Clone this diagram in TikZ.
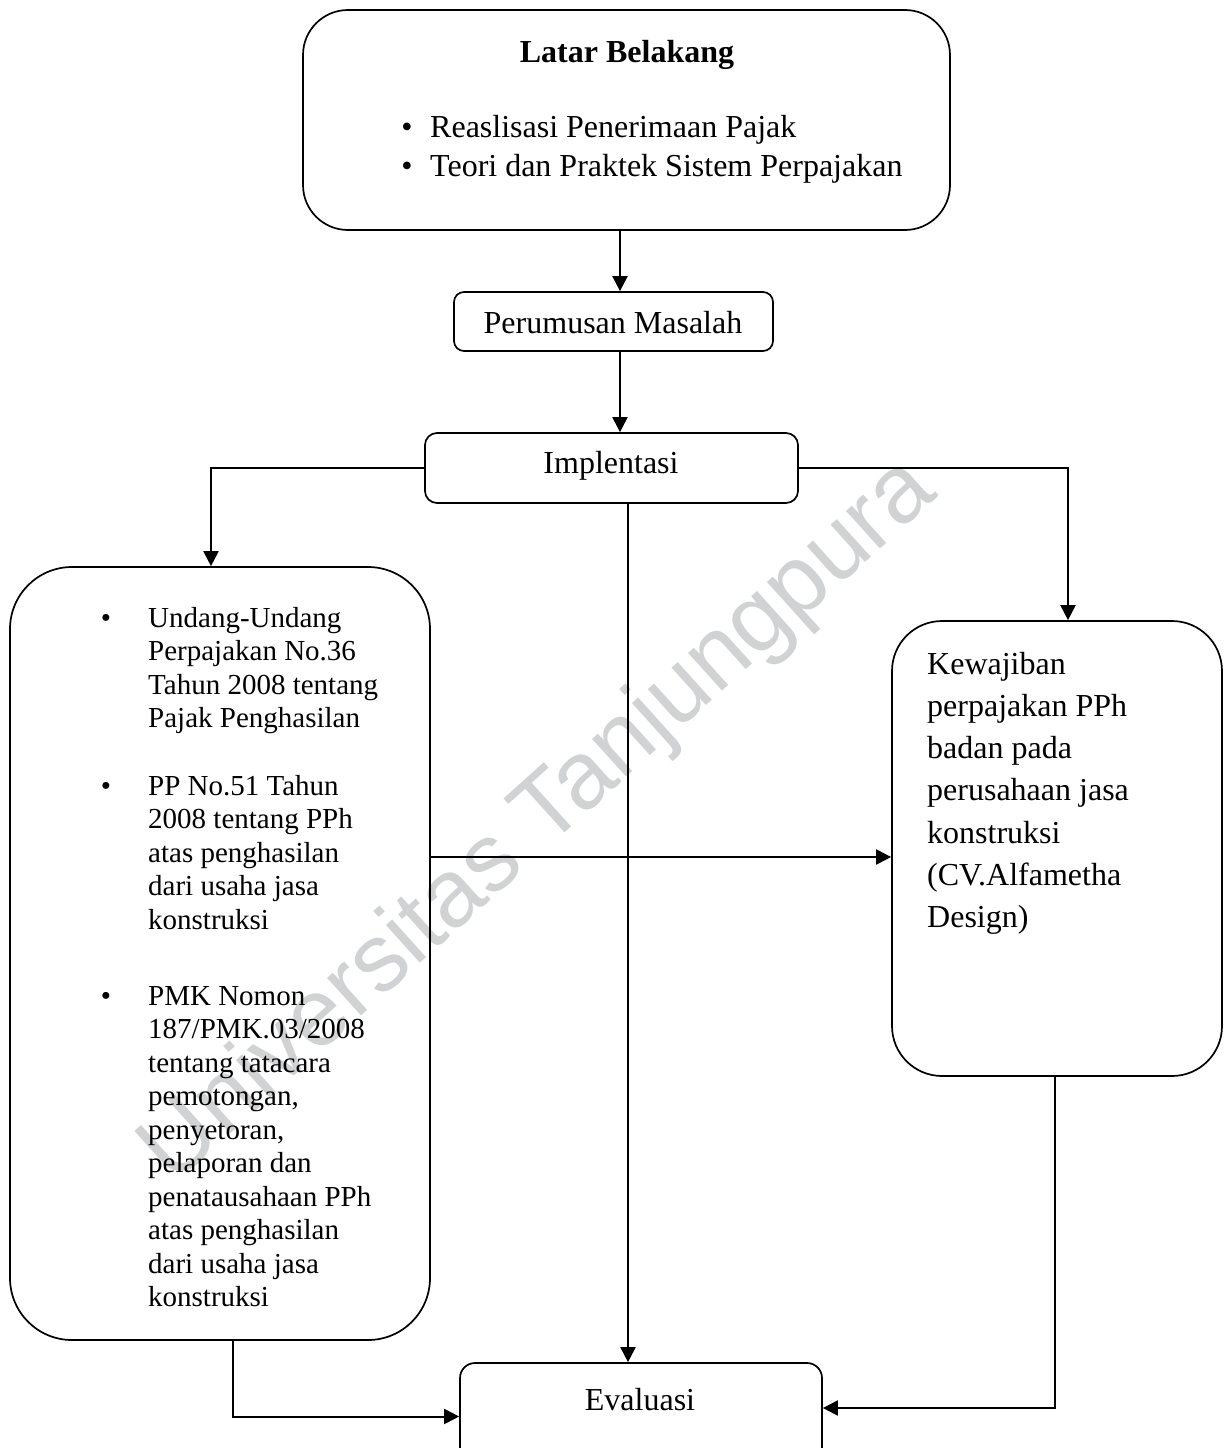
\documentclass[tikz,border=0pt]{standalone}
\usepackage{fontspec}
\setmainfont{Liberation Serif}
\newfontfamily\wmfont{Liberation Sans}
\usetikzlibrary{arrows.meta}
\definecolor{wmgray}{RGB}{208,210,212}
\begin{document}
\begin{tikzpicture}[x=1pt,y=-1pt,
  box/.style={draw, line width=1.7pt, inner sep=0pt},
  conn/.style={line width=2pt, -{Triangle[length=15pt,width=15pt]}},
  txt/.style={inner sep=0pt, anchor=base west, font=\fontsize{32}{38}\selectfont},
  ctxt/.style={inner sep=0pt, anchor=base, font=\fontsize{32}{38}\selectfont},
  ltxt/.style={inner sep=0pt, anchor=base west, font=\fontsize{29}{33}\selectfont},
  bul/.style={inner sep=0pt, anchor=base, font=\fontsize{29}{33}\selectfont},
  tbul/.style={inner sep=0pt, anchor=base, font=\fontsize{32}{38}\selectfont},
]
\useasboundingbox (0,0) rectangle (1225,1448);
\clip (0,0) rectangle (1225,1448);

% watermark
\node (wm) [rotate=42, text=wmgray, inner sep=0pt, font=\wmfont\fontsize{96}{96}\selectfont] at (540,822) {Universitas Tanjungpura};

% boxes
\node (lb)  [box, rounded corners=45pt, minimum width=647pt, minimum height=220pt] at (626.5,120) {};
\node (pm)  [box, rounded corners=10pt, minimum width=319pt, minimum height=59pt] at (613.5,321.5) {};
\node (im)  [box, rounded corners=12pt, minimum width=373pt, minimum height=70pt] at (611.5,468) {};
\node (lft) [box, rounded corners=62pt, minimum width=420pt, minimum height=773pt] at (220,953.5) {};
\node (rgt) [box, rounded corners=50pt, minimum width=330pt, minimum height=455pt] at (1057,848.5) {};
\node (ev)  [box, rounded corners=15pt, minimum width=362pt, minimum height=107pt] at (641,1416.5) {};

% texts
\node (t0) [inner sep=0pt, anchor=base, font=\bfseries\fontsize{32}{38}\selectfont] at (627,62) {Latar Belakang};
\node (tb1) [tbul] at (407,137) {\textbullet};
\node (tt1) [txt] at (430,137) {Reaslisasi Penerimaan Pajak};
\node (tb2) [tbul] at (407,176) {\textbullet};
\node (tt2) [txt] at (430,176) {Teori dan Praktek Sistem Perpajakan};

\node (pmt) [ctxt] at (613,333) {Perumusan Masalah};
\node (imt) [ctxt] at (611,473) {Implentasi};
\node (evt) [ctxt] at (640,1410) {Evaluasi};

% left box
\node (lb1) [bul] at (106,627) {\textbullet};
\foreach [count=\i] \t in {Undang-Undang, Perpajakan No.36, Tahun 2008 tentang, Pajak Penghasilan}
  \node (la\i) [ltxt] at (148,{627+33.5*(\i-1)}) {\t};
\node (lb2) [bul] at (106,795) {\textbullet};
\foreach [count=\i] \t in {PP No.51 Tahun, 2008 tentang PPh, atas penghasilan, dari usaha jasa, konstruksi}
  \node (lc\i) [ltxt] at (148,{795+33.5*(\i-1)}) {\t};
\node (lb3) [bul] at (106,1005) {\textbullet};
\foreach [count=\i] \t in {PMK Nomon, 187/PMK.03/2008, tentang tatacara, {pemotongan,}, {penyetoran,}, pelaporan dan, penatausahaan PPh, atas penghasilan, dari usaha jasa, konstruksi}
  \node (ld\i) [ltxt] at (148,{1005+33.5*(\i-1)}) {\t};

% right box
\foreach [count=\i] \t in {Kewajiban, perpajakan PPh, badan pada, perusahaan jasa, konstruksi, {(CV.Alfametha}, {Design)}}
  \node (r\i) [txt] at (927,{674+42.3*(\i-1)}) {\t};

% helper coordinates
\coordinate (xa) at (620,0);
\coordinate (xl) at (211,0);
\coordinate (xr) at (1068,0);
\coordinate (xm) at (628,0);
\coordinate (xrb) at (1055,0);
\coordinate (xlb) at (233,0);
\coordinate (ymid) at (0,857);
\coordinate (yrb) at (0,1408);
\coordinate (ylb) at (0,1416.5);

% connectors
\draw[conn] (lb.south -| xa) -- (pm.north -| xa);
\draw[conn] (pm.south -| xa) -- (im.north -| xa);
\draw[conn] (im.west) -| (lft.north -| xl);
\draw[conn] (im.east) -| (rgt.north -| xr);
\draw[conn] (im.south -| xm) -- (ev.north -| xm);
\draw[conn] (lft.east |- ymid) -- (rgt.west |- ymid);
\draw[conn] (rgt.south -| xrb) |- (ev.east |- yrb);
\draw[conn] (lft.south -| xlb) |- (ev.west |- ylb);
\end{tikzpicture}
\end{document}
